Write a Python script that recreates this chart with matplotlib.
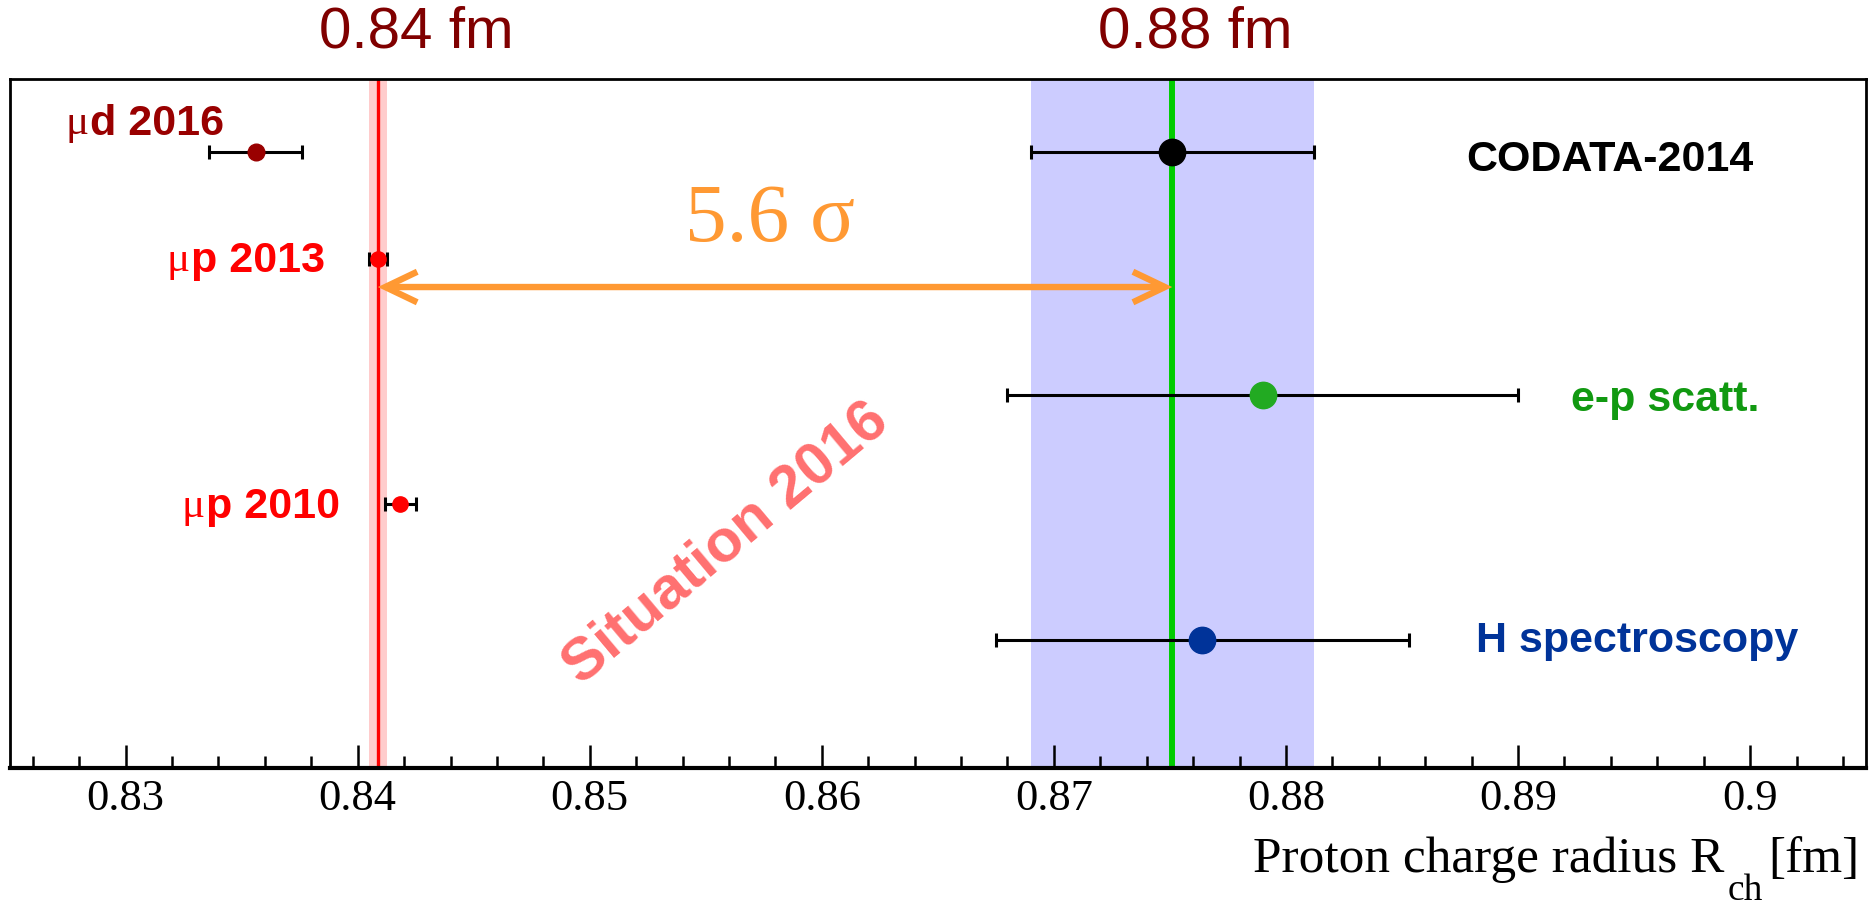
import matplotlib
matplotlib.use("Agg")
import matplotlib.pyplot as plt
from matplotlib.ticker import FixedLocator, MultipleLocator

# ---------------- data ----------------
labels = ["μd 2016", "μp 2013", "μp 2010", "CODATA-2014", "e-p scatt.", "H spectroscopy"]
radius = [0.8356, 0.84087, 0.84184, 0.8751, 0.8790, 0.8764]
errors = [0.0020, 0.00039, 0.00067, 0.0061, 0.0110, 0.0089]
rows = [8.94, 7.38, 3.83, 8.94, 5.41, 1.85]
major_ticks = [0.83, 0.84, 0.85, 0.86, 0.87, 0.88, 0.89, 0.90]
tick_labels = ["0.83", "0.84", "0.85", "0.86", "0.87", "0.88", "0.89", "0.9"]
headline_labels = ["0.84 fm", "0.88 fm"]
sigma_text = "5.6 σ"
situation_text = "Situation 2016"
arrow_row = 6.98

# ---------------- style ----------------
point_colors = ["#990000", "#ff0000", "#ff0000", "#000000", "#22aa22", "#003399"]
label_colors = ["#990000", "#ff0000", "#ff0000", "#000000", "#119911", "#003399"]
marker_sizes = [12, 11, 11, 19, 19, 19]
orange = "#ff9933"
sans = ["Liberation Sans", "DejaVu Sans"]
serif = ["Liberation Serif", "DejaVu Serif"]
W, H = 1872, 906

fig = plt.figure(figsize=(W / 100, H / 100), dpi=100)
ax = fig.add_axes([0.0051, 0.1525, 0.9918, 0.7603])
ax.set_xlim(0.825, 0.905)
ax.set_ylim(0, 10)

# bands and lines
mu_i, cod_i = 1, 3
ax.axvspan(radius[cod_i] - errors[cod_i], radius[cod_i] + errors[cod_i],
           color="#ccccff", lw=0, zorder=1)
ax.axvline(radius[cod_i], color="#00cc00", lw=4.3, zorder=2)
ax.axvspan(radius[mu_i] - errors[mu_i], radius[mu_i] + errors[mu_i],
           color="#ffcccc", lw=0, zorder=1)
ax.axvline(radius[mu_i], color="#ff0000", lw=2.4, zorder=2)

# data points
for r, e, y, c, ms in zip(radius, errors, rows, point_colors, marker_sizes):
    ax.errorbar([r], [y], xerr=[e], fmt="none", ecolor="black", elinewidth=2.2,
                capsize=5, capthick=2.2, zorder=3)
    ax.plot([r], [y], "o", color=c, markersize=ms, zorder=4)

# labels (axes fraction); a leading μ is drawn in a regular serif face like ROOT's Symbol font
label_pos = [(0.0302, 0.941, "left"), (0.1698, 0.742, "right"), (0.178, 0.385, "right"),
             (0.7846, 0.889, "left"), (0.841, 0.541, "left"), (0.7897, 0.191, "left")]
fig.canvas.draw()
rend = fig.canvas.get_renderer()
LABEL_FS = 31
for lab, (lx, ly, ha), c in zip(labels, label_pos, label_colors):
    if lab.startswith("μ"):
        rest = lab[1:]
        if ha == "left":
            tm = ax.text(lx, ly, "μ", transform=ax.transAxes, ha="left", va="center_baseline",
                         fontsize=LABEL_FS, color=c, family=serif)
            bm = tm.get_window_extent(rend)
            x_next = ax.transAxes.inverted().transform((bm.x1 + 1, 0))[0]
            ax.text(x_next, ly, rest, transform=ax.transAxes, ha="left",
                    va="center_baseline", fontsize=LABEL_FS, fontweight="bold",
                    color=c, family=sans)
        else:
            tr = ax.text(lx, ly, rest, transform=ax.transAxes, ha="right",
                         va="center_baseline", fontsize=LABEL_FS, fontweight="bold",
                         color=c, family=sans)
            br = tr.get_window_extent(rend)
            x_prev = ax.transAxes.inverted().transform((br.x0 - 1, 0))[0]
            ax.text(x_prev, ly, "μ", transform=ax.transAxes, ha="right",
                    va="center_baseline", fontsize=LABEL_FS, color=c, family=serif)
    else:
        ax.text(lx, ly, lab, transform=ax.transAxes, ha=ha, va="center_baseline",
                fontsize=LABEL_FS, fontweight="bold", color=c, family=sans)

# arrow
ax.annotate("", xy=(radius[cod_i], arrow_row), xytext=(radius[mu_i], arrow_row),
            arrowprops=dict(arrowstyle="<->,head_length=1.15,head_width=0.55",
                            color=orange, lw=4.6, shrinkA=0, shrinkB=0,
                            mutation_scale=20, joinstyle="miter", capstyle="butt"),
            zorder=5)
ax.text(0.4096, 0.794, sigma_text, transform=ax.transAxes, ha="center", va="center",
        fontsize=60, color=orange, family=serif)

ax.text(0.386, 0.326, situation_text, transform=ax.transAxes, ha="center", va="center",
        fontsize=43, fontweight="bold", color="#ff7070", rotation=40,
        rotation_mode="anchor", family=sans, zorder=2)

# headlines above frame
for hx, ht in zip([0.2193, 0.6386], headline_labels):
    ax.text(hx, 1.0676, ht, transform=ax.transAxes, ha="center", va="center",
            fontsize=42, color="#800000", family=sans, clip_on=False)

# axes styling
for s in ax.spines.values():
    s.set_linewidth(2.0)
ax.spines["bottom"].set_linewidth(3.0)
ax.set_yticks([])
ax.xaxis.set_major_locator(FixedLocator(major_ticks))
ax.set_xticklabels(tick_labels, family=serif, fontsize=32)
ax.xaxis.set_minor_locator(MultipleLocator(0.002))
ax.tick_params(axis="x", which="major", direction="in", length=16.5, width=1.8, pad=8)
ax.tick_params(axis="x", which="minor", direction="in", length=8.6, width=1.8)

# x axis title with lowered subscript
t3 = fig.text(1860 / W, 1 - 872 / H, "[fm]", ha="right", va="baseline",
              fontsize=37, family=serif)
fig.canvas.draw()
b3 = t3.get_window_extent(rend)
t2 = fig.text((b3.x0 - 6) / W, 1 - 900 / H, "ch", ha="right", va="baseline",
              fontsize=27, family=serif)
fig.canvas.draw()
b2 = t2.get_window_extent(rend)
t1 = fig.text((b2.x0 - 3) / W, 1 - 872 / H, "Proton charge radius R", ha="right",
              va="baseline", fontsize=37, family=serif)

fig.savefig("out.png", dpi=100)
